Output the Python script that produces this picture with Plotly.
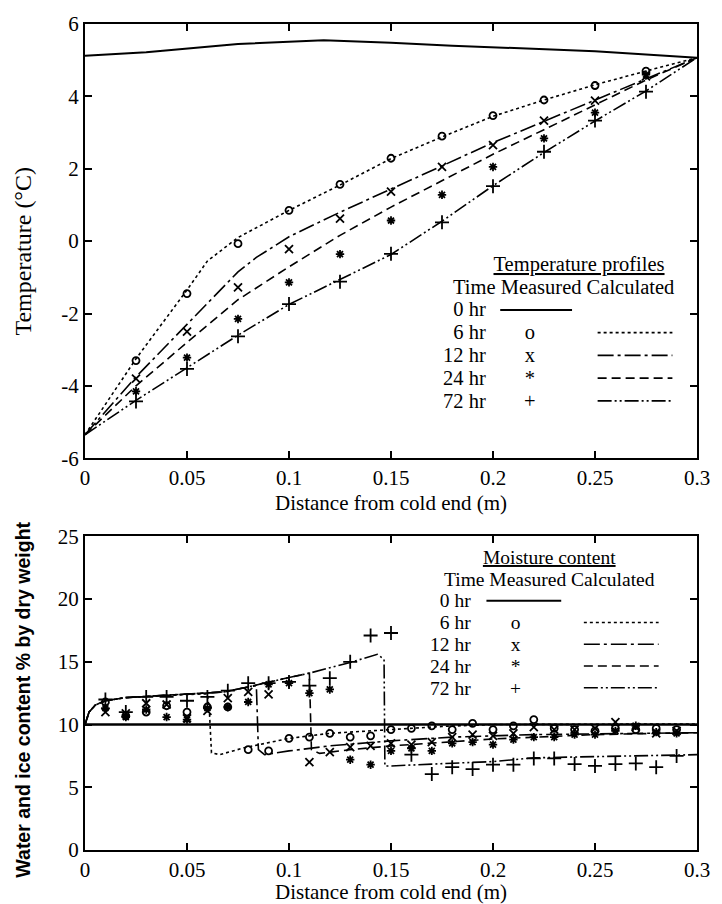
import plotly.graph_objects as go

# ---------------- DATA ----------------
x_ticks = [0, 0.05, 0.1, 0.15, 0.2, 0.25, 0.3]
x_tick_text = ["0", "0.05", "0.1", "0.15", "0.2", "0.25", "0.3"]
t_ticks = [-6, -4, -2, 0, 2, 4, 6]
t_tick_text = ["-6", "-4", "-2", "0", "2", "4", "6"]
m_ticks = [0, 5, 10, 15, 20, 25]
m_tick_text = ["0", "5", "10", "15", "20", "25"]

# Temperature profiles - measured
t_meas_x = [0.025, 0.05, 0.075, 0.1, 0.125, 0.15, 0.175, 0.2, 0.225, 0.25, 0.275]
t_meas_6 = [-3.3, -1.45, -0.07, 0.85, 1.57, 2.29, 2.9, 3.47, 3.9, 4.3, 4.7]
t_meas_12 = [-3.8, -2.5, -1.28, -0.22, 0.62, 1.37, 2.05, 2.65, 3.33, 3.88, 4.55]
t_meas_24 = [-4.15, -3.22, -2.15, -1.14, -0.36, 0.57, 1.28, 2.05, 2.84, 3.55, 4.6]
t_meas_72 = [-4.43, -3.53, -2.63, -1.74, -1.12, -0.35, 0.52, 1.52, 2.47, 3.33, 4.13]

# Temperature profiles - calculated
t_calc0_x = [0, 0.03, 0.075, 0.117, 0.15, 0.18, 0.25, 0.3]
t_calc0 = [5.12, 5.22, 5.45, 5.55, 5.48, 5.4, 5.25, 5.07]
t_calc6_x = [0, 0.025, 0.05, 0.06, 0.075, 0.1, 0.125, 0.15, 0.175, 0.2, 0.225, 0.25, 0.275, 0.3]
t_calc6 = [-5.35, -3.25, -1.35, -0.55, 0.1, 0.85, 1.55, 2.28, 2.88, 3.45, 3.9, 4.32, 4.7, 5.07]
t_calc12_x = [0, 0.025, 0.05, 0.075, 0.084, 0.1, 0.125, 0.15, 0.175, 0.2, 0.225, 0.25, 0.275, 0.3]
t_calc12 = [-5.35, -3.75, -2.3, -0.85, -0.45, 0.12, 0.8, 1.44, 2.1, 2.72, 3.31, 3.9, 4.5, 5.07]
t_calc24_x = [0, 0.025, 0.05, 0.075, 0.1, 0.125, 0.15, 0.175, 0.2, 0.225, 0.25, 0.275, 0.3]
t_calc24 = [-5.35, -4.0, -2.8, -1.62, -0.71, 0.16, 0.94, 1.67, 2.4, 3.08, 3.76, 4.45, 5.07]
t_calc72_x = [0, 0.025, 0.05, 0.075, 0.1, 0.125, 0.15, 0.175, 0.2, 0.225, 0.25, 0.275, 0.3]
t_calc72 = [-5.35, -4.4, -3.5, -2.6, -1.75, -1.07, -0.37, 0.55, 1.53, 2.45, 3.32, 4.15, 5.07]

# Moisture content - measured
m_meas_x = [0.01, 0.02, 0.03, 0.04, 0.05, 0.06, 0.07, 0.08, 0.09, 0.1,
            0.11, 0.12, 0.13, 0.14, 0.15, 0.16, 0.17, 0.18, 0.19, 0.2,
            0.21, 0.22, 0.23, 0.24, 0.25, 0.26, 0.27, 0.28, 0.29]
m_meas_6 = [11.8, 10.7, 11.0, 11.5, 11.0, 11.4, 11.4, 8.0, 7.9, 8.9,
            9.0, 9.3, 9.0, 9.1, 9.6, 9.7, 9.9, 9.6, 10.1, 9.6,
            9.9, 10.4, 9.7, 9.6, 9.5, 9.7, 9.6, 9.7, 9.6]
m_meas_12 = [11.0, 10.9, 11.7, 11.6, 10.5, 11.1, 12.1, 12.6, 12.4, None,
             7.0, 7.8, 8.2, 8.3, 8.5, 8.4, 8.6, 9.0, 9.2, 9.1,
             9.3, 9.8, 9.6, 9.6, 9.7, 10.2, 9.8, 9.3, 9.5]
m_meas_24 = [11.3, 10.6, 11.2, 10.6, 10.4, 11.3, 11.4, 11.8, 13.2, 13.3,
             12.5, 12.8, 7.2, 6.8, 7.9, 8.1, 7.9, 8.5, 8.6, 8.4,
             8.8, 9.0, 9.0, 9.2, 9.2, 9.5, 9.9, 9.4, 9.3]
m_meas_72 = [12.0, 11.0, 12.2, 12.2, 11.9, 12.2, 12.7, 13.3, 13.3, 13.4,
             13.1, 13.7, 15.0, 17.1, 17.3, 7.6, 6.05, 6.6, 6.45, 6.8,
             6.8, 7.3, 7.3, 6.85, 6.7, 6.85, 6.9, 6.6, 7.5]

# Moisture content - calculated
m_calc0_x = [0, 0.3]
m_calc0 = [10, 10]
m_calc6_x = [0, 0.002, 0.005, 0.01, 0.02, 0.03, 0.05, 0.06, 0.061, 0.062, 0.066,
             0.078, 0.1, 0.12, 0.15, 0.175, 0.2, 0.25, 0.3]
m_calc6 = [10, 11.0, 11.55, 11.9, 12.15, 12.25, 12.4, 12.45, 11.0, 7.75, 7.6,
           8.15, 8.9, 9.3, 9.6, 9.85, 10.0, 10.05, 10.05]
m_calc12_x = [0, 0.002, 0.005, 0.01, 0.02, 0.03, 0.05, 0.068, 0.08, 0.084, 0.085, 0.088,
              0.1, 0.12, 0.15, 0.18, 0.22, 0.26, 0.3]
m_calc12 = [10, 11.0, 11.55, 11.9, 12.15, 12.25, 12.4, 12.6, 13.0, 13.1, 8.0, 7.6,
            7.9, 8.3, 8.7, 9.0, 9.2, 9.3, 9.35]
m_calc24_x = [0, 0.002, 0.005, 0.01, 0.02, 0.03, 0.05, 0.068, 0.08, 0.09, 0.1, 0.11, 0.111,
              0.115, 0.13, 0.15, 0.2, 0.25, 0.3]
m_calc24 = [10, 11.0, 11.55, 11.9, 12.15, 12.25, 12.4, 12.6, 13.0, 13.4, 13.75, 14.1, 8.0,
            7.7, 8.0, 8.3, 8.85, 9.2, 9.35]
m_calc72_x = [0, 0.002, 0.005, 0.01, 0.02, 0.03, 0.05, 0.068, 0.08, 0.09, 0.1, 0.11,
              0.12, 0.13, 0.1433, 0.1466, 0.147, 0.15, 0.17, 0.2, 0.22, 0.25, 0.3]
m_calc72 = [10, 11.0, 11.55, 11.9, 12.15, 12.25, 12.4, 12.6, 13.0, 13.4, 13.75, 14.1,
            14.5, 14.95, 15.6, 15.2, 6.7, 6.7, 6.85, 7.05, 7.35, 7.45, 7.6]

legend_times = ["0 hr", "6 hr", "12 hr", "24 hr", "72 hr"]
legend_symbols = ["o", "x", "*", "+"]

# ---------------- LAYOUT HELPERS ----------------
W, H = 722, 904
ML, MR, MT, MB = 85, 15, 15, 54
PW = W - ML - MR
PH = H - MT - MB


def px(xp):
    return (xp - ML) / PW


def py(yp):
    return (H - MB - yp) / PH


SERIF = "Liberation Serif"
SANS = "Liberation Sans"
BLACK = "black"
DASH_STYLES = {
    "0": "solid",
    "6": "dot",
    "12": "16px,4px,3px,4px",
    "24": "9px,5px",
    "72": "14px,3px,2px,3px,2px,3px",
}
SYMBOLS = {"6": "circle-open", "12": "x-thin-open", "24": "asterisk-open", "72": "cross-thin-open"}
SYM_SIZE = {"6": 7, "12": 8, "24": 7, "72": 10}

fig = go.Figure()


def add_line(x, y, key, xa, ya, width=1.6):
    fig.add_trace(go.Scatter(x=x, y=y, mode="lines", xaxis=xa, yaxis=ya,
                             line=dict(color=BLACK, width=width, dash=DASH_STYLES[key]),
                             showlegend=False, hoverinfo="skip"))


def add_markers(x, y, key, xa, ya):
    fig.add_trace(go.Scatter(x=x, y=y, mode="markers", xaxis=xa, yaxis=ya,
                             marker=dict(symbol=SYMBOLS[key], size=SYM_SIZE[key], color=BLACK,
                                         line=dict(color=BLACK, width=1.8)),
                             showlegend=False, hoverinfo="skip"))


# top chart
add_line(t_calc0_x, t_calc0, "0", "x", "y", width=2)
add_line(t_calc6_x, t_calc6, "6", "x", "y")
add_line(t_calc12_x, t_calc12, "12", "x", "y")
add_line(t_calc24_x, t_calc24, "24", "x", "y")
add_line(t_calc72_x, t_calc72, "72", "x", "y")
add_markers(t_meas_x, t_meas_6, "6", "x", "y")
add_markers(t_meas_x, t_meas_12, "12", "x", "y")
add_markers(t_meas_x, t_meas_24, "24", "x", "y")
add_markers(t_meas_x, t_meas_72, "72", "x", "y")

# bottom chart
add_line(m_calc0_x, m_calc0, "0", "x2", "y2", width=2.6)
add_line(m_calc6_x, m_calc6, "6", "x2", "y2")
add_line(m_calc12_x, m_calc12, "12", "x2", "y2")
add_line(m_calc24_x, m_calc24, "24", "x2", "y2")
add_line(m_calc72_x, m_calc72, "72", "x2", "y2")
add_markers(m_meas_x, m_meas_6, "6", "x2", "y2")
add_markers(m_meas_x, m_meas_12, "12", "x2", "y2")
add_markers(m_meas_x, m_meas_24, "24", "x2", "y2")
add_markers(m_meas_x, m_meas_72, "72", "x2", "y2")

tickfont = dict(family=SERIF, size=21, color=BLACK)
common_axis = dict(showline=True, linewidth=2, linecolor=BLACK, mirror="allticks",
                   ticks="inside", ticklen=7, tickwidth=1.5, tickcolor=BLACK,
                   showgrid=False, zeroline=False, tickfont=tickfont)

top_dom = [py(454), 1.0]
bot_dom = [0.0, py(533)]

fig.update_layout(
    width=W, height=H,
    margin=dict(l=ML, r=MR, t=MT, b=MB),
    paper_bgcolor="white", plot_bgcolor="white",
    xaxis=dict(domain=[0, 1], range=[0, 0.3], tickvals=x_ticks, ticktext=x_tick_text,
               anchor="y", **common_axis),
    yaxis=dict(domain=top_dom, range=[-6, 6], tickvals=t_ticks, ticktext=t_tick_text,
               anchor="x", **common_axis),
    xaxis2=dict(domain=[0, 1], range=[0, 0.3], tickvals=x_ticks, ticktext=x_tick_text,
                anchor="y2", **common_axis),
    yaxis2=dict(domain=bot_dom, range=[0, 25], tickvals=m_ticks, ticktext=m_tick_text,
                anchor="x2", **common_axis),
    showlegend=False,
)

ann = []
shapes = []


def text(xp, yp, s, size=22, family=SERIF, xanchor="center", angle=0):
    ann.append(dict(x=px(xp), y=py(yp), xref="paper", yref="paper", text=s, showarrow=False,
                    xanchor=xanchor, yanchor="middle", textangle=angle,
                    font=dict(family=family, size=size, color=BLACK)))


def multi(xp, y_first, lines, size, spacing, xanchor="center", align="center"):
    """One text block; line pitch = 1.3 * base font, glyphs at `size`."""
    base = spacing / 1.3
    body = "<br>".join('<span style="font-size:%gpx">%s</span>' % (size, ln) for ln in lines)
    yc = y_first + spacing * (len(lines) - 1) / 2.0
    ann.append(dict(x=px(xp), y=py(yc), xref="paper", yref="paper", text=body, showarrow=False,
                    xanchor=xanchor, yanchor="middle", align=align,
                    font=dict(family=SERIF, size=base, color=BLACK)))


def legend_line(x0, x1, yp, key, width=1.6):
    shapes.append(dict(type="line", xref="paper", yref="paper", x0=px(x0), x1=px(x1),
                       y0=py(yp), y1=py(yp),
                       line=dict(color=BLACK, width=width, dash=DASH_STYLES[key])))


# axis titles
text(396, 499, "Distance from cold end (m)", size=21)
text(396, 892, "Distance from cold end (m)", size=21)
text(22, 245, "Temperature (°C)", size=24, angle=-90)
text(22, 698, "<b>Water and ice content % by dry weight</b>", size=19.5, family=SANS, angle=-90)

keys = ["0", "6", "12", "24", "72"]
NB = "\u00a0"

# top legend
TF, TSP, T0 = 20.5, 23, 304
multi(571, T0 - 2 * TSP, [NB * 6 + "<u>Temperature profiles</u>", "Time Measured Calculated"], TF, TSP)
multi(495, T0, legend_times, TF, TSP, xanchor="right", align="right")
multi(537, T0 + TSP, legend_symbols, TF, TSP)
for i, k in enumerate(keys):
    yrow = T0 + TSP * i
    if k == "0":
        legend_line(507, 580, yrow, k, width=2)
    else:
        legend_line(606, 682, yrow, k)

# bottom legend
BF, BSP, B0 = 19.5, 22, 598
multi(557, B0 - 2 * BSP, ["<u>Moisture content</u>", "Time Measured Calculated"], BF, BSP)
multi(479, B0, legend_times, BF, BSP, xanchor="right", align="right")
multi(523, B0 + BSP, legend_symbols, BF, BSP)
for i, k in enumerate(keys):
    yrow = B0 + BSP * i
    if k == "0":
        legend_line(493, 569, yrow, k, width=2)
    else:
        legend_line(592, 668, yrow, k)

fig.update_layout(annotations=ann, shapes=shapes)
fig.write_html("out.html")
